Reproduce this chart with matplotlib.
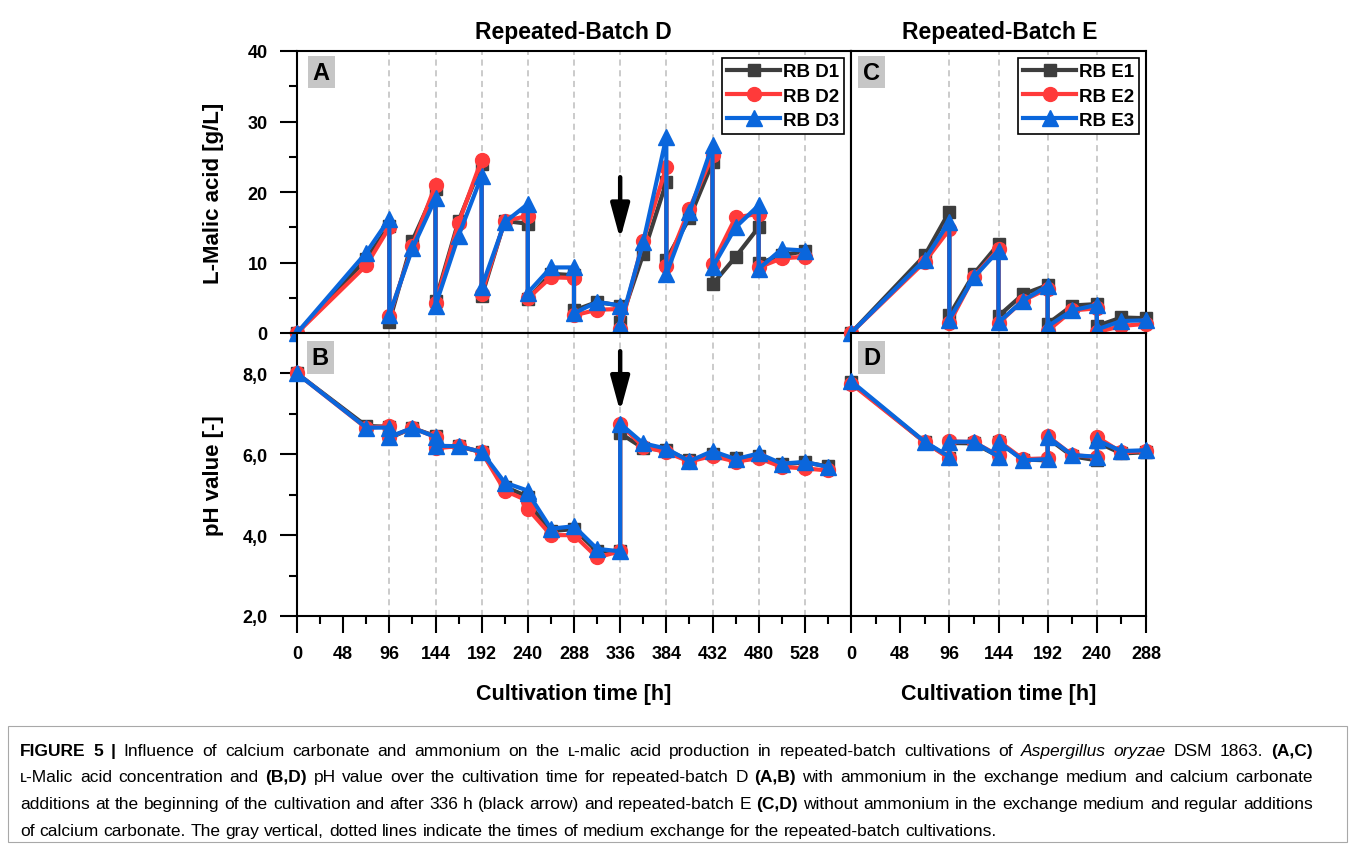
import matplotlib
matplotlib.use("Agg")
import matplotlib.pyplot as plt
from matplotlib.ticker import MultipleLocator, FuncFormatter, FixedLocator
from matplotlib.transforms import IdentityTransform
from matplotlib.patches import Rectangle

plt.rcParams["font.family"] = ["Liberation Sans", "DejaVu Sans"]
plt.rcParams["font.weight"] = "bold"

# ---- data ----
# Repeated-batch D, L-malic acid [g/L]
t_d_malic = [0, 72, 96, 96, 120, 144, 144, 168, 192, 192, 216, 240, 240, 264, 288,
             288, 312, 336, 336, 360, 384, 384, 408, 432, 432, 456, 480, 480, 504, 528]
malic_d1 = [0, 10.5, 15.2, 1.6, 13.1, 20.4, 4.6, 15.9, 24.0, 5.2, 15.9, 15.5, 4.8, 8.4, 8.2,
            3.2, 4.4, 3.9, 1.5, 11.2, 21.4, 10.4, 16.3, 24.2, 6.9, 10.8, 15.0, 9.9, 11.0, 11.6]
malic_d2 = [0, 9.6, 15.0, 2.4, 12.3, 21.0, 4.2, 15.6, 24.6, 5.6, 15.9, 16.6, 4.9, 7.9, 7.8,
            2.5, 3.3, 3.4, 0.6, 13.1, 23.5, 9.5, 17.6, 25.2, 9.8, 16.4, 16.9, 9.3, 10.6, 10.8]
malic_d3 = [0, 11.4, 16.2, 2.6, 12.0, 19.1, 3.9, 13.8, 22.3, 6.5, 15.7, 18.3, 5.7, 9.3, 9.3,
            2.8, 4.4, 3.9, 1.1, 12.9, 27.8, 8.4, 17.1, 26.7, 9.3, 15.0, 18.1, 9.1, 11.9, 11.7]

# Repeated-batch D, pH
t_d_ph = [0, 72, 96, 96, 120, 144, 144, 168, 192, 216, 240, 240, 264, 288, 312, 336, 336,
          360, 384, 408, 432, 456, 480, 504, 528, 552]
ph_d1 = [8.0, 6.70, 6.68, 6.40, 6.65, 6.45, 6.20, 6.20, 6.05, 5.20, 4.95, 4.80, 4.10, 4.15,
         3.60, 3.60, 6.52, 6.15, 6.10, 5.85, 6.00, 5.90, 5.95, 5.75, 5.80, 5.70]
ph_d2 = [8.0, 6.65, 6.70, 6.42, 6.65, 6.43, 6.15, 6.20, 6.06, 5.10, 4.85, 4.65, 4.00, 4.00,
         3.45, 3.60, 6.74, 6.19, 6.05, 5.82, 5.96, 5.82, 5.90, 5.69, 5.65, 5.60]
ph_d3 = [8.0, 6.66, 6.66, 6.43, 6.65, 6.43, 6.21, 6.20, 6.06, 5.30, 5.10, 5.05, 4.16, 4.22,
         3.66, 3.60, 6.76, 6.27, 6.14, 5.83, 6.08, 5.88, 6.02, 5.77, 5.81, 5.69]

# Repeated-batch E, L-malic acid [g/L]
t_e_malic = [0, 72, 96, 96, 120, 144, 144, 168, 192, 192, 216, 240, 240, 264, 288]
malic_e1 = [0, 11.0, 17.2, 2.5, 8.4, 12.6, 2.4, 5.5, 6.8, 1.3, 3.9, 4.1, 1.0, 2.2, 2.1]
malic_e2 = [0, 10.1, 14.7, 1.4, 8.0, 11.9, 1.4, 4.6, 6.3, 0.3, 3.2, 3.5, 0.1, 1.0, 1.3]
malic_e3 = [0, 10.4, 15.8, 1.9, 7.9, 11.7, 1.5, 4.6, 6.7, 0.95, 3.2, 4.0, 0.5, 1.7, 1.8]

# Repeated-batch E, pH
t_e_ph = [0, 72, 96, 96, 120, 144, 144, 168, 192, 192, 216, 240, 240, 264, 288]
ph_e1 = [7.78, 6.30, 5.92, 6.28, 6.27, 5.95, 6.30, 5.87, 5.85, 6.40, 5.95, 5.85, 6.30, 6.02, 6.05]
ph_e2 = [7.75, 6.30, 5.90, 6.32, 6.30, 5.97, 6.33, 5.88, 5.90, 6.45, 5.98, 5.93, 6.43, 6.05, 6.08]
ph_e3 = [7.81, 6.31, 5.94, 6.31, 6.31, 5.94, 6.31, 5.85, 5.88, 6.43, 5.98, 5.94, 6.35, 6.08, 6.10]

# medium exchange times (gray dotted lines)
exchange_d = [96, 144, 192, 240, 288, 336, 384, 432, 480, 528]
exchange_e = [96, 144, 192, 240]

labels_d = ["RB D1", "RB D2", "RB D3"]
labels_e = ["RB E1", "RB E2", "RB E3"]

colors = ["#3d3d3d", "#ff3a3a", "#0a66dc"]
markers = ["s", "o", "^"]
msizes = [9, 10, 11]

W, H = 1355, 845
fig = plt.figure(figsize=(W / 100, H / 100), dpi=100)


def px_axes(left, top, right, bottom):
    return fig.add_axes([left / W, 1 - bottom / H, (right - left) / W, (bottom - top) / H])


axA = px_axes(297, 52, 851, 334)
axB = px_axes(297, 334, 851, 617)
axC = px_axes(851, 52, 1146, 334)
axD = px_axes(851, 334, 1146, 617)


def draw_panel(ax, t, series, labels, exchange):
    for x in exchange:
        ax.axvline(x, color="#bdbdbd", lw=1.1, ls=(0, (4, 3)), zorder=1)
    for y, lab, c, m, ms in zip(series, labels, colors, markers, msizes):
        ax.plot(t, y, color=c, marker=m, ms=ms, lw=3, label=lab,
                clip_on=False, zorder=3)
    for s in ax.spines.values():
        s.set_linewidth(1.5)


draw_panel(axA, t_d_malic, [malic_d1, malic_d2, malic_d3], labels_d, exchange_d)
draw_panel(axB, t_d_ph, [ph_d1, ph_d2, ph_d3], labels_d, exchange_d)
draw_panel(axC, t_e_malic, [malic_e1, malic_e2, malic_e3], labels_e, exchange_e)
draw_panel(axD, t_e_ph, [ph_e1, ph_e2, ph_e3], labels_e, exchange_e)

for ax in (axA, axB):
    ax.set_xlim(0, 576)
for ax in (axC, axD):
    ax.set_xlim(0, 288)
for ax in (axA, axC):
    ax.set_ylim(0, 40)
for ax in (axB, axD):
    ax.set_ylim(2, 9)

tick_kw = dict(direction="out", width=1.5, labelsize=13, pad=9)
# top panels: no x ticks
for ax in (axA, axC):
    ax.tick_params(axis="x", which="both", bottom=False, labelbottom=False)
# right panels: no y ticks
for ax in (axC, axD):
    ax.tick_params(axis="y", which="both", left=False, labelleft=False)

axA.yaxis.set_major_locator(MultipleLocator(10))
axA.yaxis.set_minor_locator(MultipleLocator(5))
axB.yaxis.set_major_locator(MultipleLocator(2))
axB.yaxis.set_minor_locator(MultipleLocator(1))
axB.yaxis.set_major_formatter(FuncFormatter(lambda v, p: f"{v:.1f}".replace(".", ",")))
for ax in (axA, axB):
    ax.tick_params(axis="y", which="major", length=12, **tick_kw)
    ax.tick_params(axis="y", which="minor", length=6, direction="out", width=1.5)

axB.xaxis.set_major_locator(FixedLocator(list(range(0, 529, 48))))
axB.xaxis.set_minor_locator(FixedLocator(list(range(24, 577, 48))))
axD.xaxis.set_major_locator(MultipleLocator(48))
axD.xaxis.set_minor_locator(MultipleLocator(24))
for ax in (axB, axD):
    ax.tick_params(axis="x", which="major", length=12, **tick_kw)
    ax.tick_params(axis="x", which="minor", length=6, direction="out", width=1.5)

for ax in (axA, axB, axC, axD):
    for lab in ax.get_xticklabels() + ax.get_yticklabels():
        lab.set_fontweight("bold")

# legends
for ax in (axA, axC):
    leg = ax.legend(loc="upper right", handlelength=2.8, handletextpad=0.15,
                    borderpad=0.3, labelspacing=0.38, fancybox=False, framealpha=1,
                    borderaxespad=0.35, prop={"weight": "bold", "size": 13.5})
    leg.get_frame().set_edgecolor("black")
    leg.get_frame().set_linewidth(1.2)

# panel letters
for ax, letter, (fx, fy) in [(axA, "A", (0.044, 0.925)), (axB, "B", (0.042, 0.913)),
                             (axC, "C", (0.0695, 0.925)), (axD, "D", (0.0695, 0.913))]:
    ax.text(fx, fy, letter, transform=ax.transAxes, ha="center", va="center",
            fontsize=17, fontweight="bold",
            bbox=dict(boxstyle="square,pad=0.2", facecolor="#c6c6c6", edgecolor="none"))

# CaCO3 addition arrows at 336 h
arrow_kw = dict(arrowstyle="-|>,head_length=1.4,head_width=0.38", lw=3.2,
                color="black", mutation_scale=15, shrinkA=0, shrinkB=0)
axA.annotate("", xy=(336, 13.3), xytext=(336, 22.1), arrowprops=arrow_kw, zorder=5)
axB.annotate("", xy=(336, 7.05), xytext=(336, 8.55), arrowprops=arrow_kw, zorder=5)

# titles and axis labels (pixel positions)
px = IdentityTransform()


def ftext(x, y, s, **kw):
    return fig.text(x, H - y, s, transform=px, **kw)


ftext(573, 33, "Repeated-Batch D", ha="center", va="center", fontsize=16.5, fontweight="bold")
ftext(1000, 33, "Repeated-Batch E", ha="center", va="center", fontsize=16.5, fontweight="bold")
ftext(574, 695, "Cultivation time [h]", ha="center", va="center", fontsize=15.5, fontweight="bold")
ftext(999, 695, "Cultivation time [h]", ha="center", va="center", fontsize=15.5, fontweight="bold")
ftext(213, 193, "L-Malic acid [g/L]", ha="center", va="center", rotation=90,
      fontsize=16, fontweight="bold")
ftext(213, 476, "pH value [-]", ha="center", va="center", rotation=90,
      fontsize=16, fontweight="bold")

# caption box
fig.patches.append(Rectangle((8, H - 843), 1339, 116, transform=px, fill=False,
                             edgecolor="#a8a8a8", lw=0.8))

cap_family = ["Liberation Sans Narrow", "Liberation Sans", "DejaVu Sans"]
caption = [
    [("FIGURE 5 |", "b"),
     ("Influence of calcium carbonate and ammonium on the \u029f-malic acid production in "
      "repeated-batch cultivations of", "n"),
     ("Aspergillus oryzae", "i"), ("DSM 1863.", "n"), ("(A,C)", "b")],
    [("\u029f-Malic acid concentration and", "n"), ("(B,D)", "b"),
     ("pH value over the cultivation time for repeated-batch D", "n"), ("(A,B)", "b"),
     ("with ammonium in the exchange medium and calcium carbonate", "n")],
    [("additions at the beginning of the cultivation and after 336 h (black arrow) and "
      "repeated-batch E", "n"), ("(C,D)", "b"),
     ("without ammonium in the exchange medium and regular additions", "n")],
    [("of calcium carbonate. The gray vertical, dotted lines indicate the times of medium "
      "exchange for the repeated-batch cultivations.", "n")],
]
cap_y = [752, 778, 805, 832]
renderer = fig.canvas.get_renderer()


def style_kw(st, size):
    return dict(fontsize=size, family=cap_family,
                fontweight="bold" if st == "b" else "normal",
                fontstyle="italic" if st == "i" else "normal")


def width_of(s, st, size):
    t = fig.text(0, 0, s, transform=px, **style_kw(st, size))
    w = t.get_window_extent(renderer).width
    t.remove()
    return w


def words_of(line):
    out = []
    for text, st in line:
        out += [(w, st) for w in text.split()]
    return out


# fit font size so the last (unjustified) line ends near x=1000
base = 10.0
space_base = width_of("a a", "n", base) - width_of("aa", "n", base)
last = words_of(caption[-1])
nat = sum(width_of(w, st, base) for w, st in last) + space_base * (len(last) - 1)
cap_size = base * 980 / nat
space = space_base * cap_size / base

for i, (line, y) in enumerate(zip(caption, cap_y)):
    words = words_of(line)
    widths = [width_of(w, st, cap_size) for w, st in words]
    if i < len(caption) - 1:
        gap = (1313 - 20 - sum(widths)) / (len(words) - 1)
    else:
        gap = space
    x = 20
    for (w, st), wd in zip(words, widths):
        ftext(x, y, w, ha="left", va="center", **style_kw(st, cap_size))
        x += wd + gap

fig.savefig("out.png", dpi=100, facecolor="white")
